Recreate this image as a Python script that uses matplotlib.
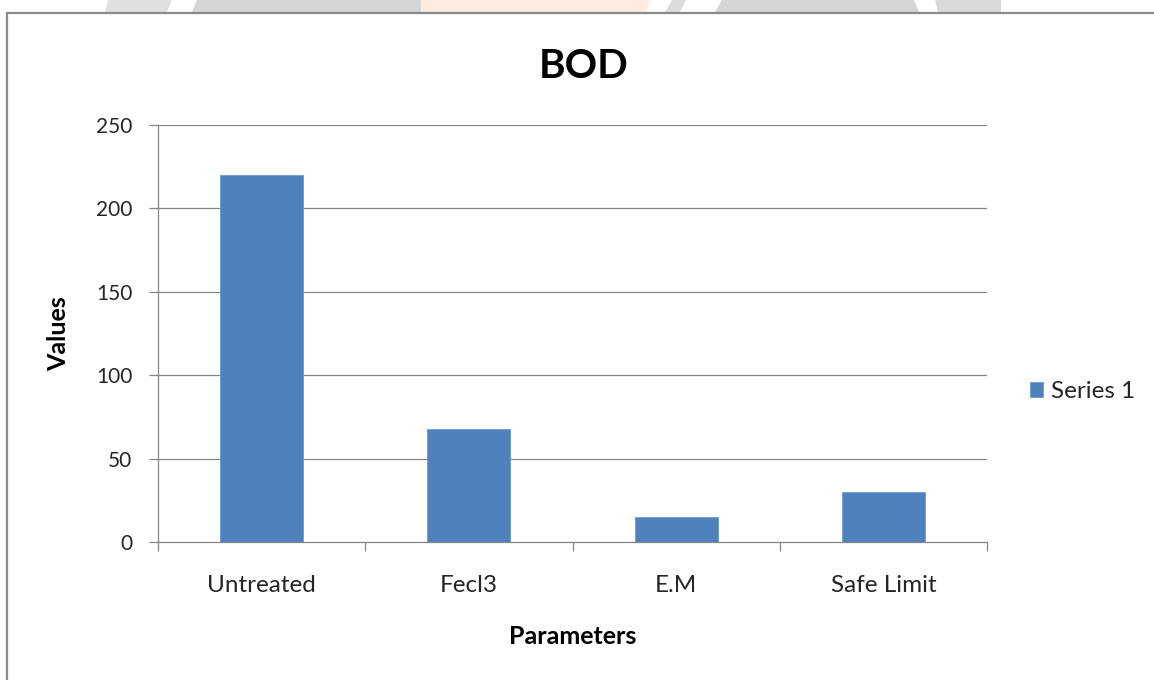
import matplotlib
matplotlib.use("Agg")
import matplotlib.pyplot as plt
from matplotlib.patches import Polygon
from matplotlib.ticker import FixedLocator, NullFormatter

plt.rcParams['font.family'] = ['Lato', 'DejaVu Sans']

# Data
categories = ["Untreated", "Fecl3", "E.M", "Safe Limit"]
values = [220, 68, 15, 30]
series_name = "Series 1"
y_ticks = [0, 50, 100, 150, 200, 250]

BAR_COLOR = "#4F81BD"
GRID_COLOR = "#868686"
TEXT_COLOR = "#262626"

W, H = 1154, 680
fig = plt.figure(figsize=(W / 100, H / 100), dpi=100)
fig.patch.set_facecolor("white")

# Background layer in pixel coordinates: page watermark strip and chart frame
bg = fig.add_axes([0, 0, 1, 1], zorder=0)
bg.set_xlim(0, W)
bg.set_ylim(H, 0)
bg.axis("off")
strip = [
    ([(108, 0), (172, 0), (167, 12), (105, 12)], "#e0e0e0"),
    ([(197, 0), (421, 0), (421, 12), (192, 12)], "#d6d6d6"),
    ([(421, 0), (650, 0), (646, 12), (421, 12)], "#fdebe0"),
    ([(672, 0), (686, 0), (680, 12), (665, 12)], "#dcdcdc"),
    ([(722, 0), (914, 0), (919, 12), (715, 12)], "#d6d6d6"),
    ([(935, 0), (1001, 0), (1001, 12), (938, 12)], "#d9d9d9"),
]
for pts, col in strip:
    bg.add_patch(Polygon(pts, closed=True, facecolor=col, edgecolor="none"))
bg.plot([7, 7, W], [H, 12.5, 12.5], color="#8a8a8a", lw=1.6,
        solid_joinstyle="miter")

# Plot area
left, right, top, bottom = 158, 987, 125, 542
ax = fig.add_axes([left / W, 1 - bottom / H, (right - left) / W, (bottom - top) / H],
                  zorder=1)
ax.set_facecolor("none")

x = list(range(len(categories)))
ax.bar(x, values, width=0.4, color=BAR_COLOR, edgecolor="#6b9bd0",
       linewidth=0.6, zorder=3, label=series_name)

ax.set_xlim(-0.5, len(categories) - 0.5)
ax.set_ylim(y_ticks[0], y_ticks[-1])

# Horizontal gridlines
for v in y_ticks[1:]:
    ax.axhline(v, color=GRID_COLOR, lw=0.9, zorder=1)

for s in ("top", "right"):
    ax.spines[s].set_visible(False)
for s in ("left", "bottom"):
    ax.spines[s].set_color(GRID_COLOR)
    ax.spines[s].set_linewidth(0.9)

ax.set_yticks(y_ticks)
ax.set_yticklabels([str(v) for v in y_ticks])
ax.tick_params(axis="y", length=6.5, width=0.9, color=GRID_COLOR,
               labelsize=15, labelcolor=TEXT_COLOR, pad=12)

ax.set_xticks(x)
ax.set_xticklabels(categories)
ax.tick_params(axis="x", which="major", length=0, labelsize=17.5,
               labelcolor=TEXT_COLOR, pad=23.5)
ax.xaxis.set_minor_locator(FixedLocator([i - 0.5 for i in range(len(categories) + 1)]))
ax.xaxis.set_minor_formatter(NullFormatter())
ax.tick_params(axis="x", which="minor", length=6.5, width=0.9, color=GRID_COLOR)

ax.set_ylabel("Values", fontsize=18, fontweight="bold", color="black", labelpad=18.5)
ax.set_xlabel("Parameters", fontsize=18, fontweight="bold", color="black", labelpad=21)

fig.text(584 / W, 1 - 66 / H, "BOD", fontsize=29, fontweight="bold",
         ha="center", va="center", color="black")

leg = ax.legend(loc="center left", bbox_to_anchor=(1.04, 0.36), frameon=False,
                fontsize=17.5, handlelength=0.55, handleheight=0.55,
                handletextpad=0.3, borderaxespad=0)
for t in leg.get_texts():
    t.set_color(TEXT_COLOR)

fig.savefig("out.png", dpi=100, facecolor="white")
